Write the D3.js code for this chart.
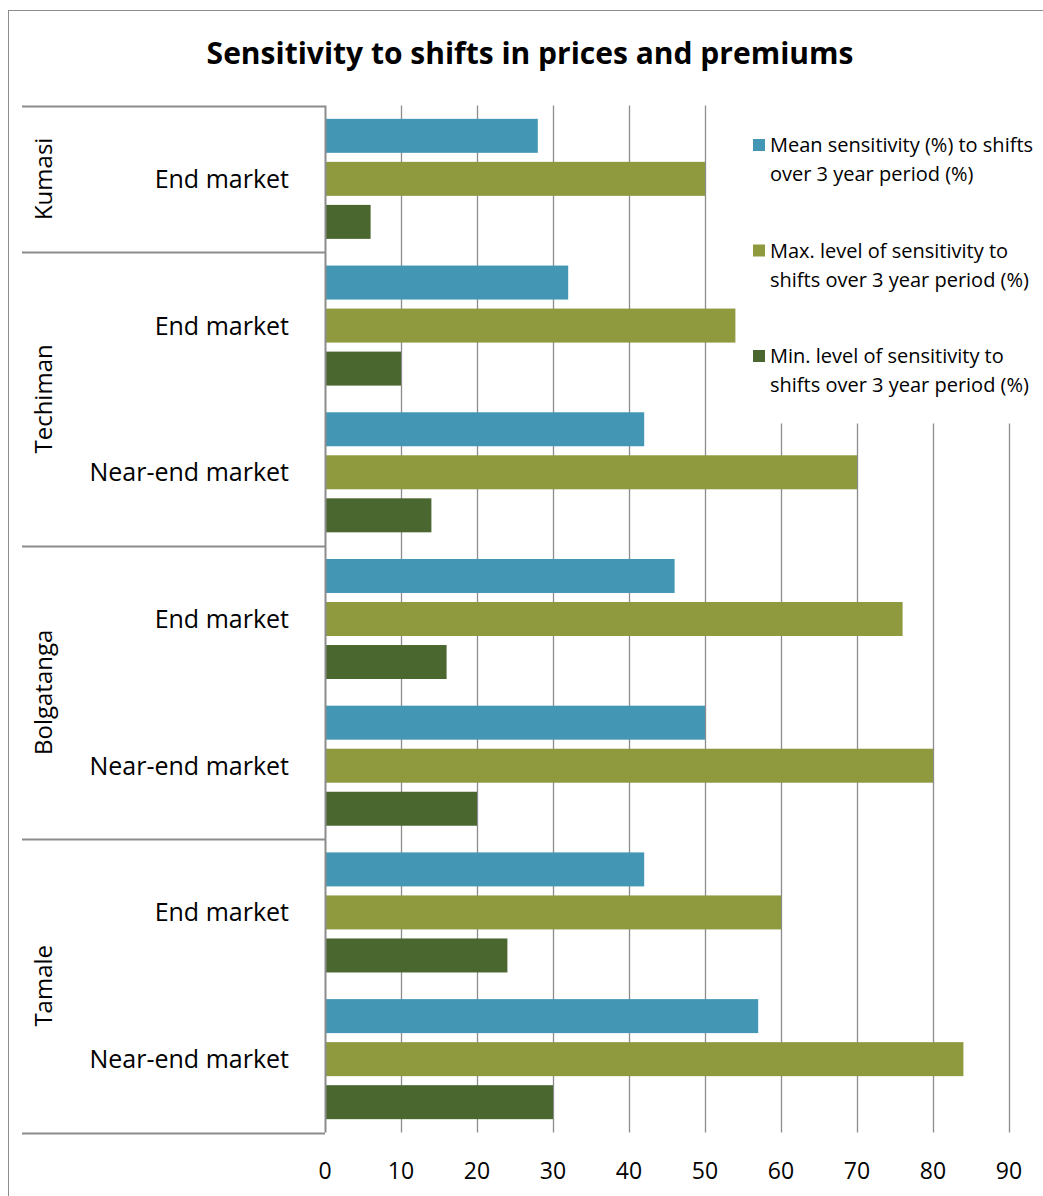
<!DOCTYPE html>
<html>
<head>
<meta charset="utf-8">
<script src="https://cdn.jsdelivr.net/npm/d3@7"></script>
<style>
  body { margin: 0; background: #fff; }
  text { font-family: "Open Sans", "Noto Sans", sans-serif; fill: #000; }
</style>
</head>
<body>
<svg id="chart" width="1043" height="1196"></svg>
<script>
const groups = ['Kumasi', 'Techiman', 'Techiman', 'Bolgatanga', 'Bolgatanga', 'Tamale', 'Tamale'];
const categories = ['End market', 'End market', 'Near-end market', 'End market', 'Near-end market', 'End market', 'Near-end market'];
const seriesNames = [
  ['Mean sensitivity (%) to shifts', 'over 3 year period (%)'],
  ['Max. level of sensitivity to', 'shifts over 3 year period (%)'],
  ['Min. level of sensitivity to', 'shifts over 3 year period (%)']
];
const meanVals = [28, 32, 42, 46, 50, 42, 57];
const maxVals = [50, 54, 70, 76, 80, 60, 84];
const minVals = [6, 10, 14, 16, 20, 24, 30];
const ticks = [0, 10, 20, 30, 40, 50, 60, 70, 80, 90];
const colors = ['#4397b5', '#8f9a3f', '#4a672f'];

const svg = d3.select('#chart');
const plotL = 325, plotR = 1009, plotT = 105.5, plotB = 1132.5;

// chart frame (runs off the right and bottom edges)
svg.append('rect')
  .attr('x', 8.5).attr('y', 10.5)
  .attr('width', 1100).attr('height', 1300)
  .attr('fill', 'none').attr('stroke', '#8c8c8c');

svg.append('text')
  .attr('x', 530).attr('y', 64)
  .attr('text-anchor', 'middle')
  .style('font-size', '30px').style('font-weight', 'bold')
  .text('Sensitivity to shifts in prices and premiums');

const x = d3.scaleLinear().domain([0, 90]).range([plotL, plotR]);
const y = d3.scaleBand().domain(d3.range(categories.length)).range([plotT, plotB]);
const ySub = d3.scaleBand().domain([0, 1, 2]).range([0, y.bandwidth()])
  .paddingInner(0.21).paddingOuter(0.31);

// gridlines
svg.append('g').selectAll('line')
  .data(ticks.slice(1))
  .join('line')
  .attr('x1', d => Math.round(x(d)) + 0.5).attr('x2', d => Math.round(x(d)) + 0.5)
  .attr('y1', plotT).attr('y2', plotB)
  .attr('stroke', '#8c8c8c').attr('stroke-width', 1.3);

// legend background hides gridlines behind it
svg.append('rect')
  .attr('x', 708).attr('y', plotT - 1)
  .attr('width', 340).attr('height', 319)
  .attr('fill', '#fff');

// bars
const rows = categories.map((c, i) => [meanVals[i], maxVals[i], minVals[i]]);
svg.append('g').selectAll('g')
  .data(rows)
  .join('g')
  .attr('transform', (d, i) => `translate(0,${y(i)})`)
  .selectAll('rect')
  .data(d => d)
  .join('rect')
  .attr('x', x(0))
  .attr('y', (d, j) => ySub(j))
  .attr('width', d => x(d) - x(0))
  .attr('height', ySub.bandwidth())
  .attr('fill', (d, j) => colors[j]);

// y axis line
svg.append('line')
  .attr('x1', plotL + 0.5).attr('x2', plotL + 0.5)
  .attr('y1', plotT).attr('y2', plotB)
  .attr('stroke', '#8c8c8c').attr('stroke-width', 2);

// x tick labels
svg.append('g').selectAll('text')
  .data(ticks)
  .join('text')
  .attr('x', d => x(d))
  .attr('y', 1179)
  .attr('text-anchor', 'middle')
  .style('font-size', '23px')
  .text(d => d);

// category labels
svg.append('g').selectAll('text')
  .data(categories)
  .join('text')
  .attr('x', 289)
  .attr('y', (d, i) => y(i) + y.bandwidth() / 2 + 9)
  .attr('text-anchor', 'end')
  .style('font-size', '25px')
  .text(d => d);

// group labels + separators
const groupSpans = [];
groups.forEach((g, i) => {
  const last = groupSpans[groupSpans.length - 1];
  if (last && last.name === g) last.end = i;
  else groupSpans.push({ name: g, start: i, end: i });
});
const sepY = [plotT, ...groupSpans.map(s => y(s.end) + y.bandwidth())];
svg.append('g').selectAll('line')
  .data(sepY)
  .join('line')
  .attr('x1', 22).attr('x2', plotL)
  .attr('y1', d => Math.round(d) + 0.5).attr('y2', d => Math.round(d) + 0.5)
  .attr('stroke', '#8c8c8c').attr('stroke-width', 2);

svg.append('g').selectAll('text')
  .data(groupSpans)
  .join('text')
  .attr('transform', s => {
    const cy = (y(s.start) + y(s.end) + y.bandwidth()) / 2;
    return `translate(52,${cy}) rotate(-90)`;
  })
  .attr('text-anchor', 'middle')
  .style('font-size', '24px')
  .text(s => s.name);

// legend
const legend = svg.append('g').attr('transform', 'translate(753,139)');
const item = legend.selectAll('g')
  .data(seriesNames)
  .join('g')
  .attr('transform', (d, i) => `translate(0,${i * 105.5})`);
item.append('rect')
  .attr('width', 12).attr('height', 12)
  .attr('fill', (d, i) => colors[i]);
item.append('text')
  .attr('x', 17).attr('y', 13)
  .style('font-size', '20px')
  .selectAll('tspan')
  .data(d => d)
  .join('tspan')
  .attr('x', 17)
  .attr('dy', (d, k) => k ? 29 : 0)
  .text(d => d);
</script>
</body>
</html>
